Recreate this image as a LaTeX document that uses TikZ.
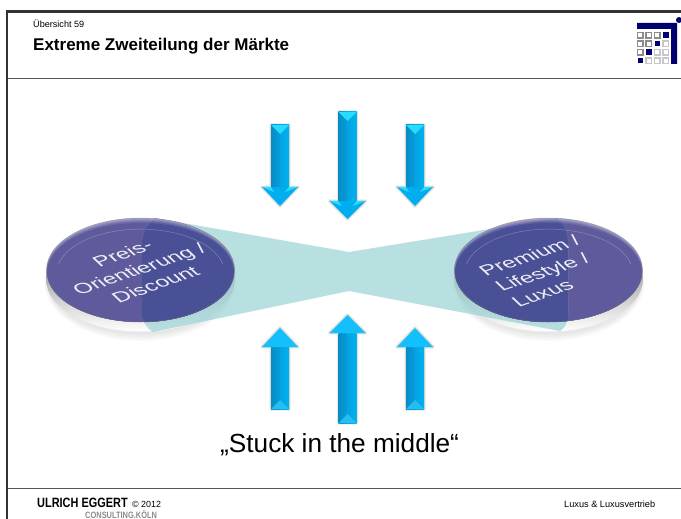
\documentclass[tikz,border=0pt]{standalone}
\usepackage{fontspec}
\setmainfont{Liberation Sans}
\newfontfamily\narrowbold[FakeStretch=0.81]{Liberation Sans}
\definecolor{navy}{HTML}{00006E}
\definecolor{tealT}{HTML}{9AD3D5}
\definecolor{framec}{HTML}{333333}
\definecolor{rulec}{HTML}{555555}
\definecolor{discP}{HTML}{5F5A9C}
\definecolor{discB}{HTML}{4A5096}
\definecolor{arD}{HTML}{069DDB}
\definecolor{arL}{HTML}{00B2EF}
\definecolor{arH}{HTML}{00AEEF}
\definecolor{arC}{HTML}{27DCFF}
\definecolor{arU}{HTML}{14C0FB}
\tikzset{
  label/.style={inner sep=0pt,anchor=base west,text=black},
  disctext/.style={inner sep=0pt,text=white,font=\fontsize{25}{31}\selectfont,text opacity=.9,cm={.848,.29,-.53,.5,(0,0)}},
  sqd/.style={draw=black!45,line width=1.1pt,fill=white},
  sql/.style={draw=black!22,line width=1.1pt,fill=white},
  sqf/.style={fill=navy},
}
\newcommand{\arshadow}[1]{%
  \draw[black,opacity=.05,line width=4pt,line join=round] #1;
  \draw[black,opacity=.10,line width=2pt,line join=round] #1;
}
\newcommand{\downarrowshape}[4]{% cx, ytop, ywing, ytip
  \begin{scope}[shift={(#1,0)}]
    \arshadow{(-9,#2) -- (9,#2) -- (9,#3) -- (18,#3) -- (0,#4) -- (-18,#3) -- (-9,#3) -- cycle}
    \shade[left color=arD!90!black,right color=arD] (-9,#2) rectangle (0,#3);
    \shade[left color=arD!70!arL,right color=arL] (0,#2) rectangle (9,#3);
    \fill[arC] (-9,#2) -- (9,#2) -- (0,#2+9) -- cycle;
    \fill[arH] (-18,#3) -- (18,#3) -- (0,#4) -- cycle;
    \fill[arC] (-18,#3) -- (-9,#3) -- (-6,#3+5) -- cycle;
    \fill[arC] (18,#3) -- (9,#3) -- (5,#3+5) -- cycle;
  \end{scope}}
\newcommand{\uparrowshape}[4]{% cx, ybot, ywing, ytip
  \begin{scope}[shift={(#1,0)}]
    \arshadow{(-9,#2) -- (9,#2) -- (9,#3) -- (18,#3) -- (0,#4) -- (-18,#3) -- (-9,#3) -- cycle}
    \shade[left color=arD!90!black,right color=arD] (-9,#2) rectangle (0,#3);
    \shade[left color=arD!70!arL,right color=arL] (0,#2) rectangle (9,#3);
    \fill[arL!85!white] (-9,#2) -- (9,#2) -- (0,#2-9) -- cycle;
    \fill[arU] (-18,#3) -- (18,#3) -- (0,#4) -- cycle;
  \end{scope}}
\newcommand{\tiepath}{(155,218) -- (349,252) -- (557,218) .. controls (564,224) and (568,232) .. (568,245) -- (568,316) .. controls (568,322) and (565,328) .. (560,331) -- (349,291) -- (153,332) .. controls (147,328) and (142,322) .. (142,314) -- (142,245) .. controls (142,232) and (148,224) .. (155,218) -- cycle}
\newcommand{\discunder}[2]{% cx, cy
  \begin{scope}[shift={(#1,#2)}]
    \foreach \e in {8,6,4,2} {\fill[black,opacity=.025] (0,12) ellipse (92+\e/2 and 51+\e);}
    \shade[top color=black!60,middle color=black!35,bottom color=white] (0,9) ellipse (94.5 and 52.5);
    \draw[black!40,line width=.5pt,opacity=.6] (-94.5,9) arc[start angle=180,end angle=300,x radius=94.5,y radius=52.5];
  \end{scope}}
\newcommand{\discface}[3]{% cx, cy, colour
  \begin{scope}[shift={(#1,#2)}]
    \fill[#3!55!white] (0,0) ellipse (94 and 52);
    \foreach \i/\m in {1/65,2/75,3/85,4/92,5/100} {\fill[#3!\m!white] (0,\i*.5) ellipse (94-\i*.12 and 52-\i*.5);}
    \draw[white,opacity=.28,line width=.5pt] (-82,-6) arc[start angle=192,end angle=348,x radius=84,y radius=44];
    \draw[black!55,opacity=.5,line width=.5pt] (0,0) ellipse (94 and 52);
  \end{scope}}
\begin{document}
\begin{tikzpicture}[x=1pt,y=-1pt]
\useasboundingbox (0,0) rectangle (681,519);
\fill[white] (0,0) rectangle (681,519);
% frame
\coordinate (fbl) at (7,519); \coordinate (ftl) at (7,11.3); \coordinate (ftr) at (681,11.3);
\draw[framec,line width=2.6pt] (fbl) -- (ftl) -- (ftr);
\coordinate (h1) at (8,78); \coordinate (h2) at (681,78);
\draw[rulec,line width=.9pt] (h1) -- (h2);
\coordinate (f1) at (8,488.5); \coordinate (f2) at (681,488.5);
\draw[rulec,line width=.9pt] (f1) -- (f2);
% texts header
\node[label,font=\fontsize{9.1}{11}\selectfont] (uebersicht) at (33,28) {Übersicht 59};
\node[label,font=\fontsize{17}{20}\selectfont\bfseries] (titel) at (33,51) {Extreme Zweiteilung der Märkte};
% logo
\fill[navy] (637,23) -- (677,23) -- (677,64) -- (671,64) -- (671,29) -- (637,29) -- cycle;
\fill[navy] (679,20) circle (3);
\foreach \x/\y/\s in {
  637.5/32.5/sqd,646/32.5/sqd,654.5/32.5/sqd,663/32.5/sqf,
  637.5/41/sqd,646/41/sqd,654.5/41/sqf,663/41/sql,
  637.5/49.5/sqd,646/49.5/sqf,654.5/49.5/sql,663/49.5/sql,
  637.5/58/sqf,646/58/sql,654.5/58/sql,663/58/sql}
  {\path[\s] (\x,\y) rectangle ++(5.5,5.5);}
% discs and bow tie
\discunder{140.5}{270}
\discunder{548.5}{270}
\fill[tealT,fill opacity=.7] \tiepath;
\discface{140.5}{270}{discP}
\discface{548.5}{270}{discP}
\begin{scope}
  \clip \tiepath;
  \discface{140.5}{270}{discB}
  \discface{548.5}{270}{discB}
\end{scope}
\node[disctext,align=center] (preis) at (139,269) {Preis-\\Orientierung /\\Discount};
\node[disctext,align=left] (premium) at (546,271) {Premium /\\Lifestyle /\\Luxus};
% arrows
\downarrowshape{280}{125}{187}{206}
\downarrowshape{347.5}{112}{201}{219}
\downarrowshape{415}{125}{187}{206}
\uparrowshape{280}{409}{347}{328}
\uparrowshape{347.5}{423}{333}{315}
\uparrowshape{415}{409}{347}{328}
% caption
\node[label,font=\fontsize{26.2}{30}\selectfont] (stuck) at (220,452) {„Stuck in the middle“};
% footer
\node[label,font=\fontsize{13.5}{15}\selectfont\narrowbold\bfseries] (ue) at (37,507) {ULRICH EGGERT};
\node[label,font=\fontsize{8.9}{10}\selectfont] (cr) at (132,507) {© 2012};
\node[label,text=black!45,font=\fontsize{9.2}{11}\selectfont\narrowbold\bfseries] (koeln) at (85,518) {CONSULTING.KÖLN};
\node[label,font=\fontsize{9.2}{10}\selectfont] (lux) at (564,507) {Luxus \& Luxusvertrieb};
\end{tikzpicture}
\end{document}
